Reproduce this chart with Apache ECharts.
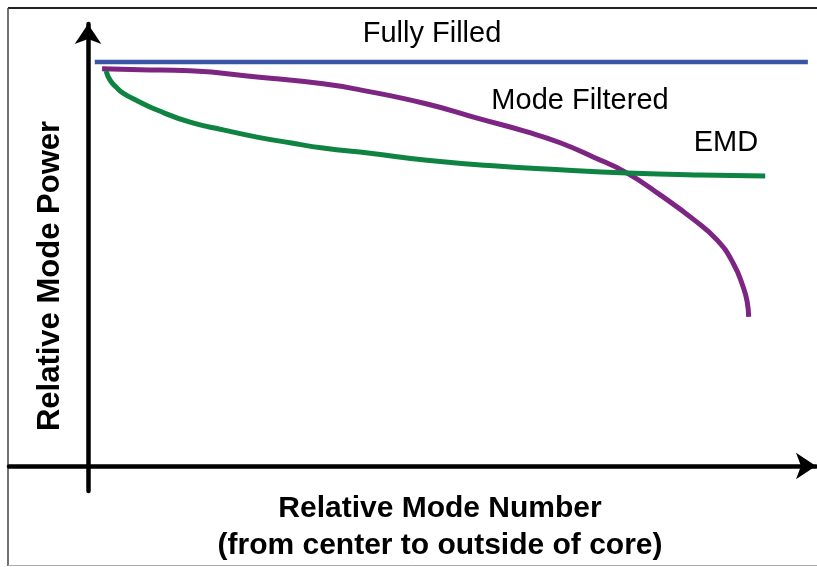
<!DOCTYPE html>
<html>
<head>
<meta charset="utf-8">
<script src="https://cdn.jsdelivr.net/npm/echarts@6/dist/echarts.min.js"></script>
<style>
html,body{margin:0;padding:0;background:#fff;}
#main{width:817px;height:567px;}
</style>
</head>
<body>
<div id="main"></div>
<script>
// Relative mode number (0..100 scale) and relative mode power (1 = fully filled)
var fullyX = [1.0, 106.3];
var fullyY = [1.0, 1.0];

var filteredX = [2.07, 7.68, 15.07, 24.96, 34.71, 40.18, 50.07, 57.46, 64.84, 69.72, 74.59, 79.62, 84.49, 89.36, 92.91, 95.27, 96.75, 97.34, 97.56];
var filteredY = [0.983, 0.981, 0.978, 0.963, 0.946, 0.931, 0.896, 0.861, 0.827, 0.800, 0.765, 0.725, 0.671, 0.611, 0.559, 0.502, 0.443, 0.406, 0.369];

var emdX = [2.66, 3.25, 4.14, 5.17, 7.39, 10.19, 15.07, 19.94, 24.96, 29.84, 34.71, 41.65, 50.07, 59.82, 69.72, 79.62, 90.40, 100.0];
var emdY = [0.978, 0.955, 0.938, 0.923, 0.903, 0.881, 0.851, 0.832, 0.814, 0.800, 0.787, 0.774, 0.757, 0.743, 0.733, 0.725, 0.720, 0.718];

var seriesNames = ['Fully Filled', 'Mode Filtered', 'EMD'];
var xAxisTitle = 'Relative Mode Number\n(from center to outside of core)';
var yAxisTitle = 'Relative Mode Power';

function pairs(xs, ys) { return xs.map(function (x, i) { return [x, ys[i]]; }); }

var chart = echarts.init(document.getElementById('main'), null, { renderer: 'canvas' });
var xTitleFont = 'bold 30px "Liberation Sans", Arial, sans-serif';
var yTitleFont = 'bold 31px "Liberation Sans", Arial, sans-serif';
var labelFont = '29px "Liberation Sans", Arial, sans-serif';

chart.setOption({
  animation: false,
  backgroundColor: '#ffffff',
  grid: { left: 9, right: 1, top: 24, bottom: 76, containLabel: false },
  xAxis: {
    type: 'value', min: -11.67, max: 107.5,
    axisLine: { show: true, onZero: true, symbol: ['none', 'arrow'], symbolSize: [20, 20],
      lineStyle: { color: '#000', width: 4.5 } },
    axisTick: { show: false }, axisLabel: { show: false }, splitLine: { show: false }
  },
  yAxis: {
    type: 'value', min: -0.0619, max: 1.094,
    axisLine: { show: true, onZero: true, symbol: ['none', 'arrow'], symbolSize: [20, 20],
      lineStyle: { color: '#000', width: 4.5 } },
    axisTick: { show: false }, axisLabel: { show: false }, splitLine: { show: false }
  },
  series: [
    { name: seriesNames[0], type: 'line', data: pairs(fullyX, fullyY), showSymbol: false, clip: false,
      lineStyle: { color: '#3a55a5', width: 4.5 } },
    { name: seriesNames[1], type: 'line', data: pairs(filteredX, filteredY), showSymbol: false,
      smooth: 0.5, clip: false,
      lineStyle: { color: '#7d2582', width: 5, join: 'round', cap: 'butt' } },
    { name: seriesNames[2], type: 'line', data: pairs(emdX, emdY), showSymbol: false,
      smooth: 0.5, clip: false,
      lineStyle: { color: '#0f8442', width: 5, join: 'round', cap: 'butt' } }
  ],
  graphic: [
    { type: 'line', shape: { x1: 8, y1: 8, x2: 817, y2: 8 }, style: { stroke: '#222', lineWidth: 2 } },
    { type: 'line', shape: { x1: 8, y1: 8, x2: 8, y2: 566 }, style: { stroke: '#444', lineWidth: 1.5 } },
    { type: 'line', shape: { x1: 8, y1: 565.5, x2: 817, y2: 565.5 }, style: { stroke: '#aaa', lineWidth: 1 } },
    { type: 'text', x: 432, y: 34, style: { text: seriesNames[0], font: labelFont, fill: '#000', align: 'center', verticalAlign: 'middle' } },
    { type: 'text', x: 580, y: 101, style: { text: seriesNames[1], font: labelFont, fill: '#000', align: 'center', verticalAlign: 'middle' } },
    { type: 'text', x: 726, y: 143, style: { text: seriesNames[2], font: labelFont, fill: '#000', align: 'center', verticalAlign: 'middle' } },
    { type: 'text', x: 440, y: 527, style: { text: xAxisTitle, font: xTitleFont, fill: '#000', align: 'center', verticalAlign: 'middle', lineHeight: 37 } },
    { type: 'text', x: 50, y: 276, rotation: Math.PI / 2, style: { text: yAxisTitle, font: yTitleFont, fill: '#000', align: 'center', verticalAlign: 'middle' } }
  ]
});
</script>
</body>
</html>
